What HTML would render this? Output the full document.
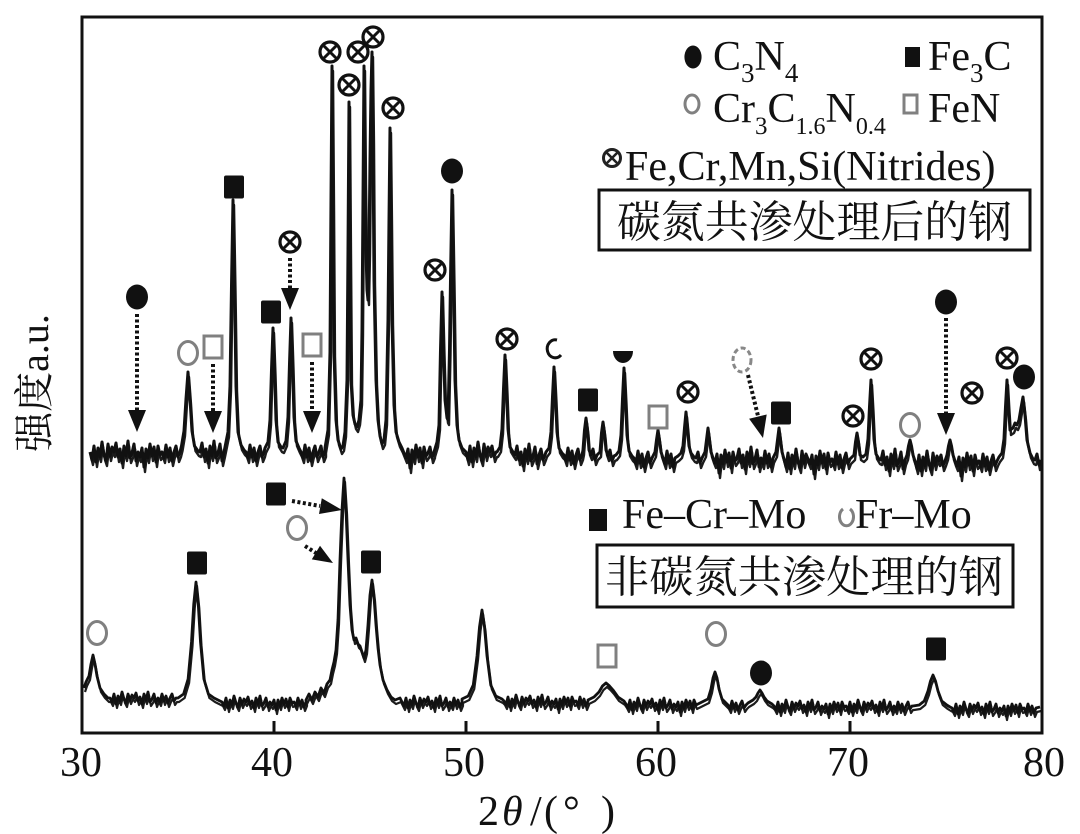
<!DOCTYPE html>
<html><head><meta charset="utf-8">
<style>
html,body{margin:0;padding:0;background:#fff;}
svg{display:block;}
text{font-family:"Liberation Serif","Noto Serif CJK SC",serif;fill:#111;}
</style></head>
<body>
<svg width="1080" height="834" viewBox="0 0 1080 834" xmlns="http://www.w3.org/2000/svg">
<defs>
  <g id="nit"><circle r="10" fill="none" stroke="#111" stroke-width="3.2"/><path d="M-7,-7L7,7M7,-7L-7,7" stroke="#111" stroke-width="3"/></g>
  <g id="nits"><circle r="8.5" fill="none" stroke="#222" stroke-width="3"/><path d="M-6,-6L6,6M6,-6L-6,6" stroke="#222" stroke-width="2.6"/></g>
  <ellipse id="fc" rx="11" ry="12.5" fill="#111"/>
  <rect id="fs" x="-10" y="-11.5" width="20" height="23" rx="2" fill="#111"/>
  <ellipse id="oc" rx="9.5" ry="11.5" fill="none" stroke="#808080" stroke-width="3"/>
  <rect id="os" x="-9" y="-11" width="18" height="22" fill="none" stroke="#808080" stroke-width="3"/>

  <path id="up" fill="none" stroke-linejoin="round" d="M90,452 l2,8 2,-14 2,16 2,-14 2,9 2,-15 2,13 2,6 2,-17 2,12 2,-9 2,5 l2,-9 2,14 2,-8 2,14 2,-17 2,10 2,-15 2,17 2,-5 2,-9 2,17 2,-9 l2,5 2,-9 2,19 2,-18 2,9 2,-14 2,12 2,-9 2,15 2,-16 2,9 2,-3 l2,6 2,-13 2,12 2,-9 2,13 2,-9 l2,-6 2,11 2,-5
L181.5,446 184,431 186,399 188,372 190,399 192,431 194.5,446 198,451
L200,452 l2,-9 2,14 2,-8 2,14 2,-17 2,10 2,-15 2,17 2,-5 2,-9 2,17 2,-9
L225,447 228,432 230,386 231.5,286 233,200 234.5,286 236,386 238,432 241,445 244,450
L246,452 l2,6 2,-13 2,12 2,-9 2,13 2,-9 l2,-6 2,11 2,-5
L265,448 268,442 270,420 271.5,370 273,328 274.5,370 276,420 278,442 281,447 283,448 286,441 288,417 289.5,364 291,318 292.5,364 294,417 296,441 299,448
L301,452 l2,6 2,-13 2,12 2,-9 2,13 2,-9 l2,-6 2,11 2,-5 l2,-6 2,11 2,-5
L325,448 328,430 330,352 331,200 332,66 333,200 334,352 336,420 338,440 341,449 343,446 345,432 347,380 348,250 349,102 350,250 351,380 353,415 355,424 357,427 359,420 361,400 362,330 363,200 364,66 365,180 366,250 367,290 368,300 369,250 370,160 371,90 372,52 373,140 374,280 376,380 378,420 380,436 382,444 384,440 386,420 388,320 389,220 390,128 391,220 392,320 394,405 396,432 399,442 402,448
L404,453 l2,5 2,-9 2,19 2,-18 2,9 2,-14 2,12 2,-9 2,15 2,-16 2,9 2,-3 l2,-6 2,11 2,-5
L434,452 437,442 439,425 440.5,350 442,292 443.5,350 445,400 447,418 448,420 449.5,350 450.5,280 452,190 453.5,280 455,380 457,425 459,440 462,448 466,452
l2,8 2,-14 2,16 2,-14 2,9 2,-15 2,13 2,6 2,-17 2,12 2,-9 2,5 l2,-6 2,11 2,-5
L497,452 500,447 502,429 503.5,389 505,355 506.5,389 508,429 510,447 513,452
L515,455 l2,-9 2,14 2,-8 2,14 2,-17 2,10 2,-15 2,17 2,-5 2,-9 2,17 2,-9 l2,-6 2,11 2,-5
L546,452 549,448 551,432 552.5,397 554,367 555.5,397 557,432 559,448 562,453
L564,455 l2,6 2,-13 2,12 2,-9 2,13 2,-9 l2,-6 2,11 2,-5
L583,450 584.5,430 586,418 587.5,430 589,450
L591,455 l2,-6 2,11 2,-5
L600,452 601.5,433 603,422 604.5,433 606,450
L608,456 l2,-6 2,11 2,-5
L616,455 619,451 621,435 622.5,399 624,368 625.5,399 627,435 629,451 632,456
L634,458 l2,6 2,-13 2,12 2,-9 2,13 2,-9 l2,-6 2,11 2,-5
L655,452 656.5,440 658,430 659.5,440 661,452
L663,458 l2,6 2,-13 2,12 2,-9 2,13 2,-9
L678,456 681,453 683,446 684.5,428 686,412 687.5,428 689,446 691,453 694,457
L696,458 l2,-6 2,11 2,-5
L705,452 706.5,440 708,428 709.5,440 711,452
L713,458 l2,5 2,-9 2,19 2,-18 2,9 2,-14 2,12 2,-9 2,15 2,-16 2,9 2,-3 l2,-9 2,14 2,-8 2,14 2,-17 2,10 2,-15 2,17 2,-5 2,-9 2,17 2,-9 l2,6 2,-13 2,12 2,-9 2,13 2,-9
L776,452 777.5,440 779,428 780.5,440 782,452
L784,459 l2,8 2,-14 2,16 2,-14 2,9 2,-15 2,13 2,6 2,-17 2,12 2,-9 2,5 l2,5 2,-9 2,19 2,-18 2,9 2,-14 2,12 2,-9 2,15 2,-16 2,9 2,-3 l2,6 2,-13 2,12 2,-9 2,13 2,-9 l2,-6 2,11 2,-5
L854,455 855.5,442 857,433 858.5,442 860,455
L863,457 866,454 868,439 869.5,407 871,380 872.5,407 874,439 876,454 879,459
L881,460 l2,-9 2,14 2,-8 2,14 2,-17 2,10 2,-15 2,17 2,-5 2,-9 2,17 2,-9
L907,455 908.5,446 910,440 911.5,446 913,455
L915,461 l2,8 2,-14 2,16 2,-14 2,9 2,-15 2,13 2,6 2,-17 2,12 2,-9 2,5 l2,-6 2,11 2,-5
L947,455 948.5,446 950,440 951.5,446 953,455
L955,461 l2,5 2,-9 2,19 2,-18 2,9 2,-14 2,12 2,-9 2,15 2,-16 2,9 2,-3 l2,6 2,-13 2,12 2,-9 2,13 2,-9 l2,-6 2,11 2,-5
L999,457 1002,453 1004,439 1005.5,407 1007,380 1008.5,407 1010,430 1013,428 1015,423 1017,425 1019,420 1021,408 1023,397 1025,415 1027,440 1030,453 1033,459
L1035,460 l2,-6 2,11 2,-5"/>

  <path id="lo" fill="none" stroke-linejoin="round" d="M84,688 L86,682 89,676 91,664 93,655 95,664 97,676 100,688 104,694 108,698
L110,698 l2,4 2,-8 2,10 2,-8 2,5 2,-9 2,7 2,4 2,-9 2,6 2,-5 2,3 l2,-5 2,8 2,-4 2,7 2,-10 2,6 2,-8 2,10 2,-3 2,-5 2,9 2,-5 l2,4 2,-8 2,7 2,-5 2,7 2,-5 l2,-4 2,7 2,-3
L178,698 183.6,694 188.1,679 191.5,642 193.75,604 196,582 198.25,604 200.5,642 203.9,679 208.4,694 214,698 220,701
L222,702 l2,4 2,-8 2,10 2,-8 2,5 2,-9 2,7 2,4 2,-9 2,6 2,-5 2,3 l2,-5 2,8 2,-4 2,7 2,-10 2,6 2,-8 2,10 2,-3 2,-5 2,9 2,-5 l2,3 2,-5 2,10 2,-10 2,6 2,-8 2,6 2,-5 2,8 2,-9 2,5 2,-1 l2,4 2,-8 2,7 2,-5 2,7 2,-5
L306,700 309,694 312,700 315,692 318,697 321,688 324,693 327,684 330,680 332,670 334,662 336,650 338,620 340,560 342,510 344,478 346,510 348,560 350,605 352,630 354,640 356,638 358,644 360,646 362,652 364,658 366,650 368,625 370,595 372,580 374,597 376,625 378,648 380,665 383,680 387,690 391,697 395,700 400,698
L402,702 l2,4 2,-8 2,10 2,-8 2,5 2,-9 2,7 2,4 2,-9 2,6 2,-5 2,3 l2,-5 2,8 2,-4 2,7 2,-10 2,6 2,-8 2,10 2,-3 2,-5 2,9 2,-5 l2,4 2,-8 2,7 2,-5 2,7 2,-5
L462,699 468.25,696 473.25,685 477,656 479.5,627 482,610 484.5,627 487,656 490.75,685 495.75,696 502,699
L504,701 l2,4 2,-8 2,10 2,-8 2,5 2,-9 2,7 2,4 2,-9 2,6 2,-5 2,3 l2,-5 2,8 2,-4 2,7 2,-10 2,6 2,-8 2,10 2,-3 2,-5 2,9 2,-5 l2,3 2,-5 2,10 2,-10 2,6 2,-8 2,6 2,-5 2,8 2,-9 2,5 2,-1 l2,4 2,-8 2,7 2,-5 2,7 2,-5
L588,700 594,697 599,692 602.5,686 606,683 609.5,686 613,690 618,697 624,701
L626,704 l2,4 2,-8 2,10 2,-8 2,5 2,-9 2,7 2,4 2,-9 2,6 2,-5 2,3 l2,-5 2,8 2,-4 2,7 2,-10 2,6 2,-8 2,10 2,-3 2,-5 2,9 2,-5 l2,3 2,-5 2,10 2,-10 2,6 2,-8 2,6 2,-5 2,8 2,-9 2,5 2,-1
L700,703 704,701 708,699 711,689 713,678 715,672 717,678 719,689 722,699 726,703
L728,705 l2,4 2,-8 2,7 2,-5 2,7 2,-5 l2,-4 2,7 2,-3
L748,703 753,700 756,697 758,693 760,690 762,693 764,697 767,701 772,704
L774,706 l2,4 2,-8 2,10 2,-8 2,5 2,-9 2,7 2,4 2,-9 2,6 2,-5 2,3 l2,-5 2,8 2,-4 2,7 2,-10 2,6 2,-8 2,10 2,-3 2,-5 2,9 2,-5 l2,3 2,-5 2,10 2,-10 2,6 2,-8 2,6 2,-5 2,8 2,-9 2,5 2,-1 l2,4 2,-8 2,10 2,-8 2,5 2,-9 2,7 2,4 2,-9 2,6 2,-5 2,3 l2,-5 2,8 2,-4 2,7 2,-10 2,6 2,-8 2,10 2,-3 2,-5 2,9 2,-5 l2,4 2,-8 2,7 2,-5 2,7 2,-5 l2,-4 2,7 2,-3
L913,706 919.25,705 924.25,701 928,691 930.5,681 933,675 935.5,681 938,691 941.75,701 946.75,705 950,707
L952,708 l2,4 2,-8 2,10 2,-8 2,5 2,-9 2,7 2,4 2,-9 2,6 2,-5 2,3 l2,-5 2,8 2,-4 2,7 2,-10 2,6 2,-8 2,10 2,-3 2,-5 2,9 2,-5 l2,3 2,-5 2,10 2,-10 2,6 2,-8 2,6 2,-5 2,8 2,-9 2,5 2,-1 l2,4 2,-8 2,7 2,-5 2,7 2,-5 L1040,707"/>
</defs>

<rect x="0" y="0" width="1080" height="834" fill="#fff"/>

<!-- spectra (layered copies to build a dense noisy band) -->
<use href="#up" stroke="#1c1c1c" stroke-width="2.4" transform="translate(1,5)"/>
<use href="#up" stroke="#111" stroke-width="3"/>
<use href="#lo" stroke="#1c1c1c" stroke-width="2.2" transform="translate(1,4)"/>
<use href="#lo" stroke="#111" stroke-width="2.8"/>

<!-- frame -->
<rect x="82" y="17" width="960" height="716" fill="none" stroke="#111" stroke-width="3"/>
<g stroke="#111" stroke-width="3">
  <line x1="274" y1="733" x2="274" y2="721"/>
  <line x1="466" y1="733" x2="466" y2="721"/>
  <line x1="658" y1="733" x2="658" y2="721"/>
  <line x1="850" y1="733" x2="850" y2="721"/>
</g>

<!-- tick labels -->
<g font-size="42" text-anchor="middle">
  <text x="81" y="776">30</text>
  <text x="272" y="776">40</text>
  <text x="464" y="776">50</text>
  <text x="656" y="776">60</text>
  <text x="848" y="776">70</text>
  <text x="1044" y="776">80</text>
</g>
<text y="825" font-size="42"><tspan x="478">2</tspan><tspan x="502" font-style="italic">θ</tspan><tspan x="530">/</tspan><tspan x="544">(</tspan><tspan x="563">°</tspan><tspan x="601">)</tspan></text>

<!-- y label -->
<text transform="translate(48,383) rotate(-90)" text-anchor="middle" font-size="40">强度a.u.</text>

<!-- upper legend -->
<use href="#fc" transform="translate(693,57) scale(0.78,0.92)"/>
<text x="713" y="70" font-size="42">C<tspan font-size="27" dy="12">3</tspan><tspan dy="-12">N</tspan><tspan font-size="27" dy="12">4</tspan></text>
<rect x="905" y="47" width="15" height="20" fill="#111"/>
<text x="928" y="70" font-size="42">Fe<tspan font-size="27" dy="12">3</tspan><tspan dy="-12">C</tspan></text>
<ellipse cx="692" cy="104" rx="7" ry="9" fill="none" stroke="#808080" stroke-width="3"/>
<text x="713" y="122" font-size="42">Cr<tspan font-size="25" dy="12">3</tspan><tspan dy="-12">C</tspan><tspan font-size="24" dy="12">1.6</tspan><tspan dy="-12">N</tspan><tspan font-size="24" dy="12">0.4</tspan></text>
<rect x="904" y="95" width="13" height="18" fill="none" stroke="#808080" stroke-width="3"/>
<text x="928" y="122" font-size="42">FeN</text>
<use href="#nits" x="612" y="158"/>
<text x="625" y="180" font-size="42">Fe,Cr,Mn,Si(Nitrides)</text>
<rect x="599" y="190" width="431" height="60" fill="#fff" stroke="#111" stroke-width="3"/>
<text x="617" y="237" font-size="44" textLength="395" lengthAdjust="spacingAndGlyphs">碳氮共渗处理后的钢</text>

<!-- lower legend -->
<rect x="589" y="509" width="18" height="22" fill="#111"/>
<text x="622" y="528" font-size="42">Fe–Cr–Mo</text>
<path d="M843,509 A7,9 0 1 0 850,509" fill="none" stroke="#808080" stroke-width="3"/>
<text x="855" y="528" font-size="42">Fr–Mo</text>
<rect x="597" y="545" width="416" height="62" fill="#fff" stroke="#111" stroke-width="3"/>
<text x="605" y="592" font-size="44" textLength="398" lengthAdjust="spacingAndGlyphs">非碳氮共渗处理的钢</text>

<!-- upper markers -->
<g>
  <use href="#nit" x="330" y="52"/>
  <use href="#nit" x="349" y="85"/>
  <use href="#nit" x="358" y="52"/>
  <use href="#nit" x="373" y="37"/>
  <use href="#nit" x="393" y="108"/>
  <use href="#nit" x="290" y="242"/>
  <use href="#nit" x="435" y="270"/>
  <use href="#nit" x="507" y="339"/>
  <use href="#nit" x="688" y="392"/>
  <use href="#nit" x="853" y="416"/>
  <use href="#nit" x="871" y="359"/>
  <use href="#nit" x="972" y="393"/>
  <use href="#nit" x="1007" y="358"/>

  <use href="#fc" x="137" y="297"/>
  <use href="#fc" x="452" y="171"/>
  <use href="#fc" x="946" y="302"/>
  <use href="#fc" x="1024" y="377"/>

  <use href="#fs" x="234" y="187"/>
  <use href="#fs" x="271" y="312"/>
  <use href="#fs" x="588" y="400"/>
  <use href="#fs" x="781" y="413"/>

  <use href="#oc" x="188" y="353"/>
  <use href="#oc" x="910" y="425"/>
  <ellipse cx="742" cy="360" rx="9" ry="12" fill="none" stroke="#888" stroke-width="3" stroke-dasharray="5 3"/>

  <use href="#os" x="213" y="347"/>
  <use href="#os" x="312" y="345"/>
  <use href="#os" x="658" y="417"/>

  <path d="M613,351 L633,351 A10,12 0 0 1 613,351 Z" fill="#111"/>
  <path d="M557,340 A8,9 0 1 0 561,355" fill="none" stroke="#111" stroke-width="3"/>
</g>

<!-- lower markers -->
<g>
  <use href="#oc" x="97" y="633"/>
  <use href="#oc" x="297" y="528"/>
  <use href="#oc" x="716" y="634"/>
  <use href="#fs" x="197" y="563"/>
  <use href="#fs" x="276" y="494"/>
  <use href="#fs" x="371" y="562"/>
  <use href="#fs" x="936" y="649"/>
  <use href="#os" x="607" y="656"/>
  <use href="#fc" x="761" y="673"/>
</g>

<!-- arrows -->
<g stroke="#111" stroke-width="4" stroke-dasharray="3 2.5" fill="none">
  <line x1="137" y1="314" x2="137" y2="412"/>
  <line x1="213" y1="364" x2="213" y2="413"/>
  <line x1="290" y1="258" x2="290" y2="290"/>
  <line x1="312" y1="362" x2="312" y2="413"/>
  <line x1="946" y1="318" x2="946" y2="415"/>
  <line x1="748" y1="375" x2="758" y2="416"/>
  <line x1="292" y1="501" x2="320" y2="506"/>
  <line x1="305" y1="546" x2="316" y2="553"/>
</g>
<g fill="#111">
  <polygon points="128,410 146,410 137,432"/>
  <polygon points="204,411 222,411 213,433"/>
  <polygon points="281,288 299,288 290,310"/>
  <polygon points="303,411 321,411 312,433"/>
  <polygon points="937,413 955,413 946,435"/>
  <polygon points="766.7,414.5 749.1,418.7 763,438"/>
  <polygon points="319,514 321.8,498.2 342,510"/>
  <polygon points="311.8,559.4 320,545.8 333,563"/>
</g>
</svg>
</body></html>
